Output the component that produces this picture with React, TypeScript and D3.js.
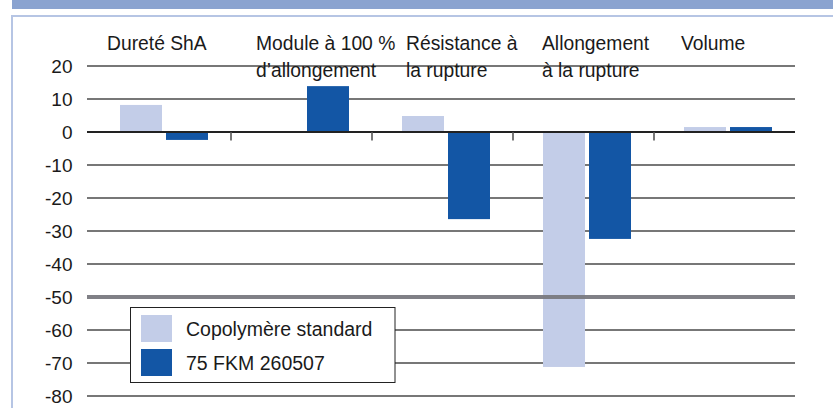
import React from "react";
import * as d3 from "d3";

const categories = [
  ["Dureté ShA"],
  ["Module à 100 %", "d’allongement"],
  ["Résistance à", "la rupture"],
  ["Allongement", "à la rupture"],
  ["Volume"],
];
const seriesNames = ["Copolymère standard", "75 FKM 260507"];
const standardValues = [8.2, 0, 4.85, -71.2, 1.5];
const fkmValues = [-2.4, 13.9, -26.4, -32.4, 1.5];
const yTicks = [20, 10, 0, -10, -20, -30, -40, -50, -60, -70, -80];

const W = 833;
const H = 408;
const colors = ["#c3cde8", "#1356a5"];
const font = "'Liberation Sans', Arial, sans-serif";

export default function App() {
  const y = d3.scaleLinear().domain([-80, 20]).range([396, 66]);
  const x = d3
    .scaleBand<number>()
    .domain(categories.map((_, i) => i))
    .range([90, 795]);
  const inner = d3
    .scaleBand<number>()
    .domain([0, 1])
    .range([30, 118])
    .paddingInner(0.087);
  const series = [standardValues, fkmValues];
  const labelDx = [-13, -5, 4, -1, -3];

  return (
    <svg
      width={W}
      height={H}
      style={{ position: "absolute", left: 0, top: 0, display: "block", background: "#fff" }}
      fontFamily={font}
    >
      <rect x={12} y={0} width={W - 12} height={9} fill="#8aa3d0" />
      <rect x={12} y={15} width={W - 12} height={2} fill="#b6c5e4" />
      <rect x={11} y={15} width={2} height={H - 15} fill="#b6c5e4" />

      {/* gridlines */}
      {yTicks.map((t) =>
        t === -50 || t === 0 ? null : (
          <line key={t} x1={87} x2={795} y1={y(t)} y2={y(t)} stroke="#4a4a4a" strokeWidth={1.6} />
        )
      )}
      {yTicks.map((t) => (
        <text key={"t" + t} x={72.5} y={y(t) + 6.5} textAnchor="end" fontSize={19} fill="#1a1a1a">
          {t}
        </text>
      ))}

      {/* bars */}
      {series.map((vals, s) =>
        vals.map((v, i) => (
          <rect
            key={s + "-" + i}
            x={(x(i) as number) + (inner(s) as number)}
            width={inner.bandwidth()}
            y={y(Math.max(0, v))}
            height={Math.abs(y(v) - y(0))}
            fill={colors[s]}
          />
        ))
      )}

      {/* zero line and dividers */}
      <line x1={87} x2={795} y1={y(0)} y2={y(0)} stroke="#222" strokeWidth={2} />
      {categories.slice(1).map((_, i) => (
        <line
          key={"d" + i}
          x1={x(i + 1) as number}
          x2={x(i + 1) as number}
          y1={y(0)}
          y2={y(0) + 8.5}
          stroke="#555"
          strokeWidth={1.6}
        />
      ))}
      <line x1={87} x2={795} y1={y(-50)} y2={y(-50)} stroke="#7a7a80" strokeWidth={4} opacity={0.95} />

      {/* category labels */}
      {categories.map((lines, i) => (
        <text
          key={"c" + i}
          x={(x(i) as number) + (inner(0) as number) + labelDx[i]}
          y={50}
          fontSize={19.3}
          fill="#1a1a1a"
        >
          {lines.map((l, j) => (
            <tspan key={j} x={(x(i) as number) + (inner(0) as number) + labelDx[i]} dy={j === 0 ? 0 : 26.5}>
              {l}
            </tspan>
          ))}
        </text>
      ))}

      {/* legend */}
      <rect x={130.5} y={307.5} width={264.5} height={75} fill="#fff" stroke="#222" strokeWidth={1} />
      {seriesNames.map((n, s) => (
        <g key={n}>
          <rect x={141} y={315 + s * 34} width={31} height={27} fill={colors[s]} />
          <text x={186} y={336 + s * 34} fontSize={19.5} fill="#1a1a1a">
            {n}
          </text>
        </g>
      ))}
    </svg>
  );
}
